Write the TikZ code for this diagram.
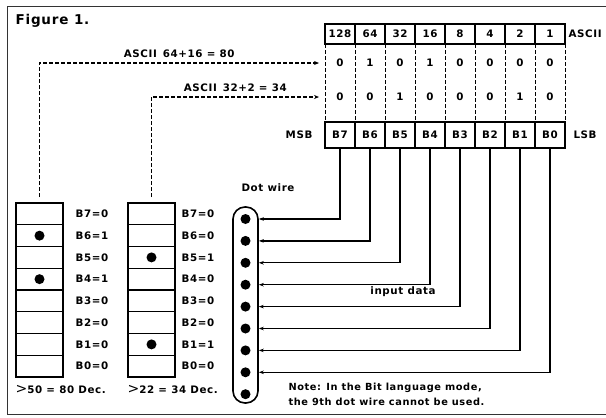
\documentclass[tikz,border=0pt]{standalone}
\usepackage{fontspec}
\setmainfont{DejaVu Sans}[LetterSpace=6]
\usetikzlibrary{arrows.meta, positioning}

\begin{document}
\begin{tikzpicture}[x=1pt, y=-1pt, font=\bfseries\fontsize{10.3}{12}\selectfont, node distance=0pt,
  headbox/.style={draw, line width=1.2pt, outer sep=0pt, inner sep=0pt, minimum width=30pt, minimum height=20pt},
  bitbox/.style={draw, line width=1.4pt, outer sep=0pt, inner sep=0pt, minimum width=30pt, minimum height=26pt},
  cell/.style={draw, line width=1.1pt, outer sep=0pt, inner sep=0pt, minimum width=47pt, minimum height=21.75pt},
  dot/.style={circle, fill, inner sep=0pt, minimum size=10pt},
  leader/.style={dashed, dash pattern=on 4pt off 2pt, line width=1.1pt, -{Stealth[length=5pt, width=4pt]}},
  grid/.style={dashed, dash pattern=on 4pt off 2pt, line width=1pt},
  wire/.style={line width=1.2pt, -{Stealth[length=5pt, width=3.5pt]}}]
\useasboundingbox (0,0) rectangle (606,418);
\draw[line width=1pt, black!80] (7,6) rectangle (650,414);
\node[anchor=west, font=\bfseries\fontsize{13.5}{16}\selectfont] (title) at (12,21) {Figure 1.};

% ASCII weights
\node[headbox] (h7) at (340,34) {128};
\node[headbox, right=of h7] (h6) {64};
\node[headbox, right=of h6] (h5) {32};
\node[headbox, right=of h5] (h4) {16};
\node[headbox, right=of h4] (h3) {8};
\node[headbox, right=of h3] (h2) {4};
\node[headbox, right=of h2] (h1) {2};
\node[headbox, right=of h1] (h0) {1};
\node[right=0pt of h0, anchor=west] (ascii) {ASCII};

% bit register
\node[bitbox] (b7) at (340,135) {B7};
\node[bitbox, right=of b7] (b6) {B6};
\node[bitbox, right=of b6] (b5) {B5};
\node[bitbox, right=of b5] (b4) {B4};
\node[bitbox, right=of b4] (b3) {B3};
\node[bitbox, right=of b3] (b2) {B2};
\node[bitbox, right=of b2] (b1) {B1};
\node[bitbox, right=of b1] (b0) {B0};
\node[left=9pt of b7] (msb) {MSB};
\node[right=5pt of b0] (lsb) {LSB};

\draw[grid] (h7.south west) -- (b7.north west);
\draw[grid] (h6.south west) -- (b6.north west);
\draw[grid] (h5.south west) -- (b5.north west);
\draw[grid] (h4.south west) -- (b4.north west);
\draw[grid] (h3.south west) -- (b3.north west);
\draw[grid] (h2.south west) -- (b2.north west);
\draw[grid] (h1.south west) -- (b1.north west);
\draw[grid] (h0.south west) -- (b0.north west);
\draw[grid] (h0.south east) -- (b0.north east);

% code values
\node (p7) at (340,63) {0};
\node (p6) at (370,63) {1};
\node (p5) at (400,63) {0};
\node (p4) at (430,63) {1};
\node (p3) at (460,63) {0};
\node (p2) at (490,63) {0};
\node (p1) at (520,63) {0};
\node (p0) at (550,63) {0};
\node (q7) at (340,97) {0};
\node (q6) at (370,97) {0};
\node (q5) at (400,97) {1};
\node (q4) at (430,97) {0};
\node (q3) at (460,97) {0};
\node (q2) at (490,97) {0};
\node (q1) at (520,97) {1};
\node (q0) at (550,97) {0};

% column for 80
\node[cell] (a7) at (39.5,213.9) {};
\node[cell, below=of a7] (a6) {};
\node[cell, below=of a6] (a5) {};
\node[cell, below=of a5] (a4) {};
\node[cell, below=of a4] (a3) {};
\node[cell, below=of a3] (a2) {};
\node[cell, below=of a2] (a1) {};
\node[cell, below=of a1] (a0) {};
\node[dot] (ad6) at (a6) {};
\node[dot] (ad4) at (a4) {};
\node[right=9pt of a7] (la7) {B7=0};
\node[right=9pt of a6] (la6) {B6=1};
\node[right=9pt of a5] (la5) {B5=0};
\node[right=9pt of a4] (la4) {B4=1};
\node[right=9pt of a3] (la3) {B3=0};
\node[right=9pt of a2] (la2) {B2=0};
\node[right=9pt of a1] (la1) {B1=0};
\node[right=9pt of a0] (la0) {B0=0};
\node[anchor=west] (suma) at (12,390) {{\mdseries\fontsize{14}{14}\selectfont>}50 = 80 Dec.};

% column for 34
\node[cell] (c7) at (151.5,213.9) {};
\node[cell, below=of c7] (c6) {};
\node[cell, below=of c6] (c5) {};
\node[cell, below=of c5] (c4) {};
\node[cell, below=of c4] (c3) {};
\node[cell, below=of c3] (c2) {};
\node[cell, below=of c2] (c1) {};
\node[cell, below=of c1] (c0) {};
\node[dot] (cd5) at (c5) {};
\node[dot] (cd1) at (c1) {};
\node[right=3pt of c7] (lc7) {B7=0};
\node[right=3pt of c6] (lc6) {B6=0};
\node[right=3pt of c5] (lc5) {B5=1};
\node[right=3pt of c4] (lc4) {B4=0};
\node[right=3pt of c3] (lc3) {B3=0};
\node[right=3pt of c2] (lc2) {B2=0};
\node[right=3pt of c1] (lc1) {B1=1};
\node[right=3pt of c0] (lc0) {B0=0};
\node[anchor=west] (sumc) at (124,390) {{\mdseries\fontsize{14}{14}\selectfont>}22 = 34 Dec.};

\draw[leader] ([yshift=6pt]a7.north) |- ([xshift=-6pt]h7.west |- p7)
  node[pos=0.75, above=1pt] (asc80) {ASCII\, 64+16 = 80};
\draw[leader] ([yshift=6pt]c7.north) |- ([xshift=-6pt]h7.west |- q7)
  node[pos=0.75, above=1pt] (asc34) {ASCII\, 32+2 = 34};

% dot wire head
\node[draw, line width=1.6pt, rounded corners=12pt, minimum width=25pt, minimum height=196pt, inner sep=0pt] (cap) at (245.5,305) {};
\node[dot] (w1) at (245.5,219) {};
\node[dot, below=11.5pt of w1] (w2) {};
\node[dot, below=11.5pt of w2] (w3) {};
\node[dot, below=11.5pt of w3] (w4) {};
\node[dot, below=11.5pt of w4] (w5) {};
\node[dot, below=11.5pt of w5] (w6) {};
\node[dot, below=11.5pt of w6] (w7) {};
\node[dot, below=11.5pt of w7] (w8) {};
\node[dot, below=11.5pt of w8] (w9) {};
\node (dotwire) at (268,188) {Dot wire};

\draw[wire] (b7.south) |- (w1 -| cap.east);
\draw[wire] (b6.south) |- (w2 -| cap.east);
\draw[wire] (b5.south) |- (w3 -| cap.east);
\draw[wire] (b4.south) |- (w4 -| cap.east);
\draw[wire] (b3.south) |- (w5 -| cap.east);
\draw[wire] (b2.south) |- (w6 -| cap.east);
\draw[wire] (b1.south) |- (w7 -| cap.east);
\draw[wire] (b0.south) |- (w8 -| cap.east);
\node (input) at (403,292) {input data};

\node[anchor=north west, align=left, font=\bfseries\fontsize{9.8}{14.5}\selectfont] (note) at (285,380)
  {Note: In the Bit language mode,\\the 9th dot wire cannot be used.};
\end{tikzpicture}
\end{document}
